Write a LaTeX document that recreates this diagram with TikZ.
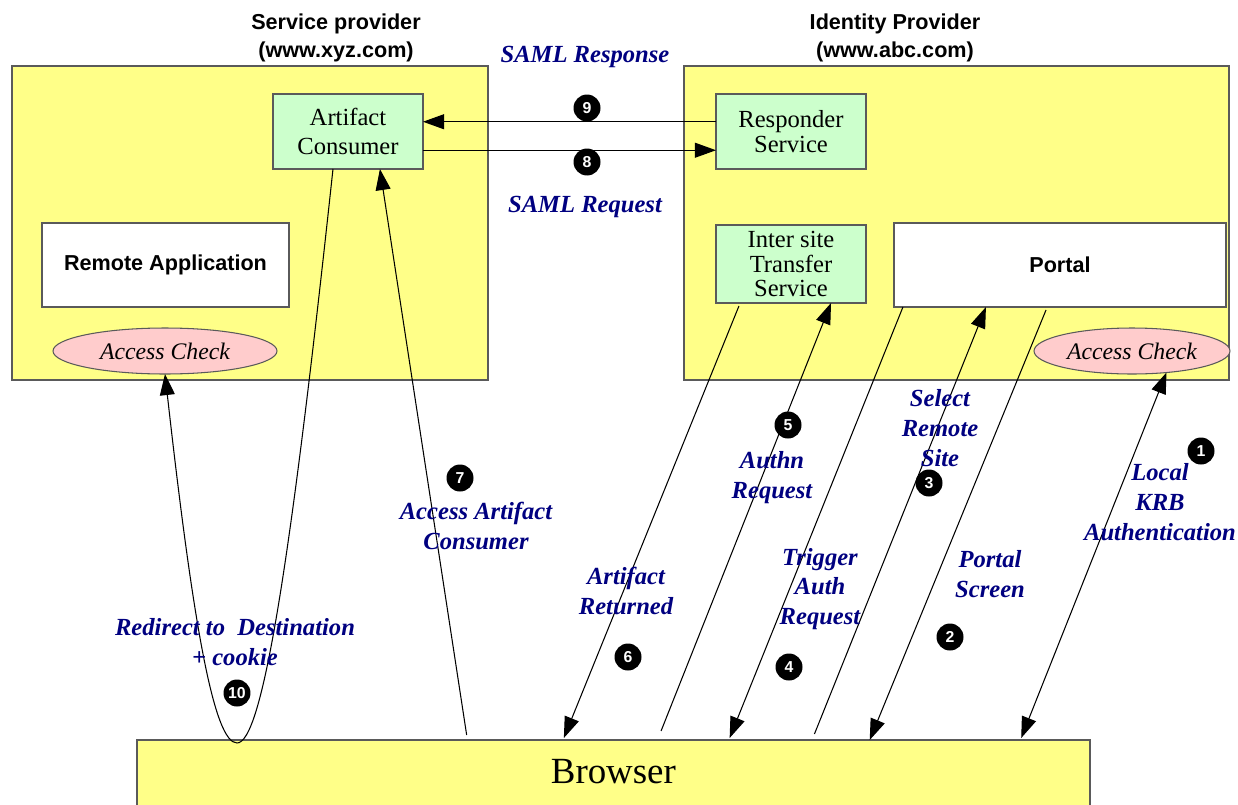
\documentclass[tikz,border=0pt]{standalone}
\usepackage{fontspec}
\setmainfont{Liberation Serif}
\setsansfont{Liberation Sans}
\usetikzlibrary{arrows.meta,calc,shapes.geometric}
\definecolor{zone}{HTML}{FFFF88}
\definecolor{svc}{HTML}{CCFFCC}
\definecolor{chk}{HTML}{FFCCCC}
\definecolor{edge}{HTML}{5A5A5A}
\definecolor{lbl}{HTML}{000080}

\begin{document}
\begin{tikzpicture}[x=0.02cm,y=-0.02cm,
  zonebox/.style={draw=edge,line width=0.9pt,fill=zone,anchor=north west,inner sep=0pt,outer sep=0pt},
  svcbox/.style={draw=edge,line width=0.9pt,fill=svc,anchor=north west,inner sep=0pt,outer sep=0pt,
    align=center,minimum width=3cm},
  appbox/.style={draw=edge,line width=0.9pt,fill=white,anchor=north west,inner sep=0pt,outer sep=0pt,
    minimum height=1.68cm,font=\sffamily\bfseries\fontsize{12.3}{15}\selectfont},
  check/.style={ellipse,draw=edge,line width=0.6pt,fill=chk,inner sep=0pt,outer sep=0pt,
    minimum height=0.92cm,font=\itshape\fontsize{13.5}{16}\selectfont},
  title/.style={align=center,font=\sffamily\bfseries\fontsize{12.3}{16}\selectfont},
  lab/.style={align=center,text=lbl,font=\bfseries\itshape\fontsize{14}{17}\selectfont},
  num/.style={circle,fill=black,text=white,inner sep=0pt,minimum size=0.54cm,
    font=\sffamily\bfseries\fontsize{9}{9}\selectfont},
  conn/.style={line width=0.6pt,-{Triangle[length=12pt,width=8.5pt]}},
  dconn/.style={line width=0.6pt,{Triangle[length=12pt,width=8.5pt]}-{Triangle[length=12pt,width=8.5pt]}}
]
\useasboundingbox (0,0) rectangle (1238,805);

% provider zones and the browser
\node[zonebox,minimum width=9.52cm,minimum height=6.28cm] (sp) at (12,66) {};
\node[zonebox,minimum width=10.9cm,minimum height=6.28cm] (idp) at (684,66) {};
\node[zonebox,minimum width=19.06cm,minimum height=1.6cm] (browser) at (137,740) {};
\node[font=\fontsize{21}{24}\selectfont] (browsertext) at ($(browser.north)+(0,32)$) {Browser};

\node[title] (sptitle) at (336,38) {Service provider\\(www.xyz.com)};
\node[title] (idptitle) at (895,38) {Identity Provider\\(www.abc.com)};

% services
\node[svcbox,minimum height=1.5cm,font=\fontsize{14}{17}\selectfont] (ac) at (273,94) {Artifact\\Consumer};
\node[svcbox,minimum height=1.5cm,font=\fontsize{14}{14}\selectfont] (rs) at (716,94) {Responder\\Service};
\node[svcbox,minimum height=1.56cm,font=\fontsize{14}{14.2}\selectfont] (its) at (716,225) {Inter site\\Transfer\\Service};
\node[appbox,minimum width=4.94cm] (ra) at (42,223) {Remote Application};
\node[appbox,minimum width=6.64cm] (portal) at (894,223) {Portal};
\node[check,minimum width=4.48cm] (acl) at (165,351) {Access Check};
\node[check,minimum width=3.92cm] (acr) at (1132,351) {Access Check};

% SAML back channel
\draw[conn] ($(rs.north west)!0.37!(rs.south west)$) -- ($(ac.north east)!0.37!(ac.south east)$);
\draw[conn] ($(ac.north east)!0.75!(ac.south east)$) -- ($(rs.north west)!0.75!(rs.south west)$);

% browser flows
\draw[conn] ($(browser.north west)!0.346!(browser.north east)+(0,-5)$) -- ($(ac.south west)!0.713!(ac.south east)$);
\coordinate (loopbottom) at ($(browser.north west)+(100,3)$);
\draw[conn] ($(ac.south west)!0.4!(ac.south east)$) .. controls (290,569) and (262,743) .. (loopbottom)
  .. controls (214,743) and (193,624) .. (acl.south);
\draw[conn] ($(its.south west)!0.153!(its.south east)+(0,3)$) -- ($(browser.north west)!0.448!(browser.north east)+(0,-2)$);
\draw[conn] ($(browser.north west)!0.55!(browser.north east)+(0,-9)$) -- ($(its.south west)!0.767!(its.south east)$);
\draw[conn] ($(portal.south west)!0.027!(portal.south east)$) -- ($(browser.north west)!0.622!(browser.north east)+(0,-2)$);
\draw[conn] ($(browser.north west)!0.711!(browser.north east)+(0,-6)$) -- ($(portal.south west)!0.277!(portal.south east)$);
\draw[conn] ($(portal.south west)!0.458!(portal.south east)+(0,3)$) -- ($(browser.north west)!0.769!(browser.north east)$);
\draw[dconn] (acr.328) -- ($(browser.north west)!0.928!(browser.north east)+(0,-2)$);

% step labels
\node[lab] (l9) at (585,57) {SAML Response};
\node[lab] (l8) at (585,207) {SAML Request};
\node[lab] (l7) at (476,526) {Access Artifact\\Consumer};
\node[lab] (l10) at (235,642) {Redirect to\ \ Destination\\+ cookie};
\node[lab] (l6) at (626,591) {Artifact\\Returned};
\node[lab] (l5) at (772,478) {Authn\\Request};
\node[lab] (l4) at (820,589) {Trigger\\Auth\\Request};
\node[lab] (l3) at (940,428) {Select\\Remote\\Site};
\node[lab] (l2) at (990,574) {Portal\\Screen};
\node[lab] (l1) at (1160,502) {Local\\KRB\\Authentication};

% step numbers
\node[num] (n1) at (1201,451) {1};
\node[num] (n2) at (950,637) {2};
\node[num] (n3) at (929,483) {3};
\node[num] (n4) at (789,667) {4};
\node[num] (n5) at (788,425) {5};
\node[num] (n6) at (628,657) {6};
\node[num] (n7) at (460,478) {7};
\node[num] (n8) at (587,162) {8};
\node[num] (n9) at (587,108) {9};
\node[num] (n10) at (237,693) {10};
\end{tikzpicture}
\end{document}
